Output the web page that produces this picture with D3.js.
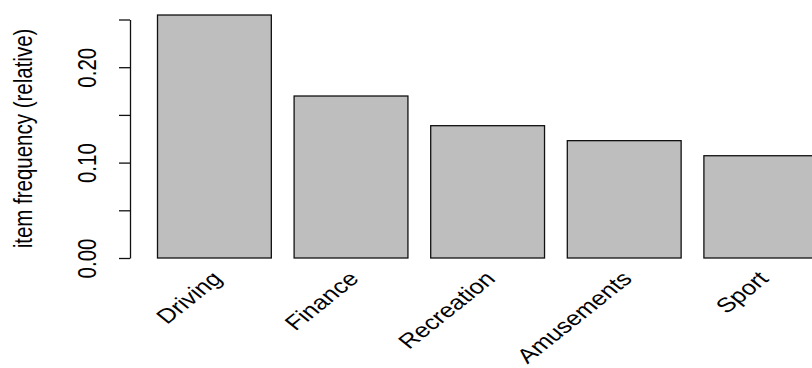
<!DOCTYPE html>
<html>
<head>
<meta charset="utf-8">
<script src="https://cdn.jsdelivr.net/npm/d3@7"></script>
<style>
  html, body { margin: 0; padding: 0; background: #fff; }
  svg { display: block; }
  text { font-family: "Liberation Sans", Arial, sans-serif; fill: #000; }
</style>
</head>
<body>
<svg id="chart" width="812" height="368"></svg>
<script>
// Relative item frequencies
const categories = ["Driving", "Finance", "Recreation", "Amusements", "Sport"];
const frequencies = [0.2547, 0.1698, 0.1387, 0.1230, 0.1072];
const tickValues = [0, 0.05, 0.10, 0.15, 0.20, 0.25];
const tickLabels = ["0.00", "", "0.10", "", "0.20", ""];
const yTitle = "item frequency (relative)";

const W = 812, H = 368;
const stretchX = 1.25;   // horizontal stretch applied to all text
const fontSize = 20.5;

const svg = d3.select("#chart");

const y = d3.scaleLinear().domain([0, 0.25]).range([258, 19.5]);

// bars: width 1, gap 0.2 (in bar units)
const step = 136.6;
const x = d3.scaleBand()
  .domain(categories)
  .range([157.5, 157.5 + categories.length * step - step / 6])
  .paddingInner(1 / 6)
  .paddingOuter(0);

svg.append("clipPath").attr("id", "plotclip")
  .append("rect").attr("x", 0).attr("y", 0).attr("width", W).attr("height", H);

svg.append("g").attr("clip-path", "url(#plotclip)")
  .selectAll("rect")
  .data(categories)
  .join("rect")
  .attr("x", d => x(d))
  .attr("y", (d, i) => y(frequencies[i]))
  .attr("width", x.bandwidth())
  .attr("height", (d, i) => y(0) - y(frequencies[i]))
  .attr("fill", "#bebebe")
  .attr("stroke", "#111")
  .attr("stroke-width", 1.3);

// y axis
const axisX = 130;
const yAxis = d3.axisLeft(y)
  .tickValues(tickValues)
  .tickFormat((d, i) => tickLabels[i])
  .tickSize(11)
  .tickSizeOuter(0);

const gy = svg.append("g")
  .attr("transform", `translate(${axisX},0)`)
  .call(yAxis);
gy.select(".domain").attr("stroke", "#111").attr("stroke-width", 1.3);
gy.selectAll(".tick line").attr("stroke", "#111").attr("stroke-width", 1.3);
gy.selectAll(".tick text")
  .attr("x", null).attr("dy", null)
  .attr("text-anchor", "middle")
  .attr("font-size", fontSize)
  .attr("font-family", "Liberation Sans, Arial, sans-serif")
  .attr("fill", "#222")
  .attr("transform", `translate(-34,0) scale(${stretchX},1) rotate(-90)`);

// y title
svg.append("text")
  .attr("text-anchor", "middle")
  .attr("font-size", fontSize)
  .attr("fill", "#222")
  .attr("transform", `translate(32,138.5) scale(${stretchX},1) rotate(-90)`)
  .text(yTitle);

// category labels, slanted
svg.append("g")
  .selectAll("text")
  .data(categories)
  .join("text")
  .attr("text-anchor", "end")
  .attr("font-size", fontSize)
  .attr("fill", "#222")
  .attr("transform", d => `translate(${x(d) + x.bandwidth() / 2 + 9},280) scale(${stretchX},1) rotate(-45)`)
  .text(d => d);
</script>
</body>
</html>
